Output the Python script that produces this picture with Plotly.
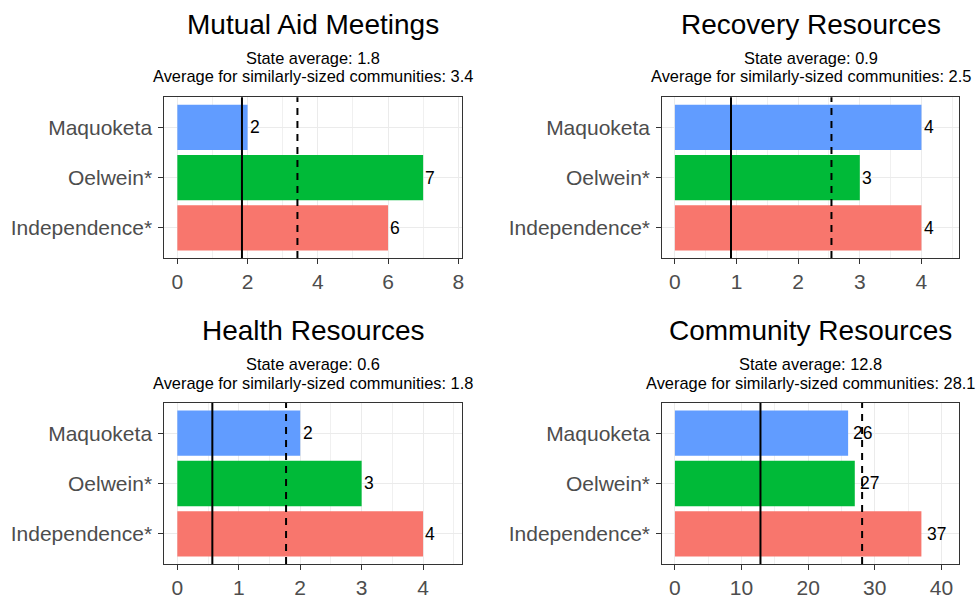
import plotly.graph_objects as go

# ---- data ----
communities = ["Independence*", "Oelwein*", "Maquoketa"]
bar_colors = ["#F8766D", "#00BA38", "#619CFF"]

panel_titles = ["Mutual Aid Meetings", "Recovery Resources", "Health Resources", "Community Resources"]
mutual_aid = [6, 7, 2]
recovery = [4, 3, 4]
health = [4, 3, 2]
community = [37, 27, 26]
state_avg = [1.84, 0.91, 0.57, 12.84]
similar_avg = [3.42, 2.54, 1.77, 28.1]
x_ticks = [[0, 2, 4, 6, 8], [0, 1, 2, 3, 4], [0, 1, 2, 3, 4], [0, 10, 20, 30, 40]]

series = [mutual_aid, recovery, health, community]

# ---- layout constants ----
W, H = 977, 599
FONT = "Liberation Sans"
col_px = [(164.7, 462.7), (663.7, 961.0)]
row_px = [(98.3, 261.0), (407.7, 570.7)]
title_y_px = [24.5, 334.0]
sub1_y_px = [58.3, 368.3]
sub2_y_px = [77.3, 387.3]
x_ranges = [[-0.37, 8.1], [-0.204, 4.61], [-0.211, 4.63], [-1.89, 42.65]]

fig = go.Figure()
annotations = []
shapes = []

for i in range(4):
    r, c = divmod(i, 2)
    n = i + 1
    xa = "x" if n == 1 else f"x{n}"
    ya = "y" if n == 1 else f"y{n}"
    vals = series[i]
    fig.add_trace(go.Bar(
        x=vals, y=communities, orientation="h",
        marker=dict(color=bar_colors, line=dict(width=0)),
        width=0.9, xaxis=xa, yaxis=ya, showlegend=False, hoverinfo="x+y",
    ))
    ticks = x_ticks[i]
    dt = ticks[1] - ticks[0]
    x0p, x1p = col_px[c]
    y0p, y1p = row_px[r]
    axis_common = dict(
        showline=True, linecolor="#333333", linewidth=1.2, mirror=True,
        ticks="outside", ticklen=5, tickwidth=1.2, tickcolor="#333333",
        tickfont=dict(family=FONT, size=21, color="#4D4D4D"),
        showgrid=True, gridcolor="#EBEBEB", gridwidth=1.3, zeroline=False,
    )
    fig.layout[f"xaxis{'' if n == 1 else n}"] = dict(
        axis_common,
        domain=[x0p / W, x1p / W], anchor=ya, range=x_ranges[i],
        tickmode="array", tickvals=ticks, ticktext=[str(t) for t in ticks],
        minor=dict(dtick=dt / 2, tick0=0, showgrid=True, gridcolor="#F0F0F0", gridwidth=0.8, ticks=""),
    )
    fig.layout[f"yaxis{'' if n == 1 else n}"] = dict(
        axis_common,
        domain=[1 - y1p / H, 1 - y0p / H], anchor=xa, range=[-0.6, 2.6],
        type="category", categoryorder="array", categoryarray=communities,
        ticklabelstandoff=2,
    )
    # reference lines
    shapes.append(dict(type="line", xref=xa, yref=f"{ya} domain", x0=state_avg[i], x1=state_avg[i],
                       y0=0, y1=1, line=dict(color="black", width=2)))
    shapes.append(dict(type="line", xref=xa, yref=f"{ya} domain", x0=similar_avg[i], x1=similar_avg[i],
                       y0=0, y1=1, line=dict(color="black", width=2, dash="7px,6px")))
    # value labels
    for cat, v in zip(communities, vals):
        annotations.append(dict(
            x=v, y=cat, xref=xa, yref=ya, text=str(v), showarrow=False,
            xanchor="left", yanchor="middle", xshift=0.3 * len(str(v)) * 9.5 - 2.5,
            font=dict(family=FONT, size=17.5, color="black"),
        ))
    cx = (x0p + x1p) / 2 / W
    annotations.append(dict(
        x=cx, y=1 - title_y_px[r] / H, xref="paper", yref="paper", text=panel_titles[i],
        showarrow=False, xanchor="center", yanchor="middle",
        font=dict(family=FONT, size=28, color="black"),
    ))
    annotations.append(dict(
        x=cx, y=1 - sub1_y_px[r] / H, xref="paper", yref="paper",
        text=f"State average: {state_avg[i]:.1f}",
        showarrow=False, xanchor="center", yanchor="middle",
        font=dict(family=FONT, size=16.4, color="black"),
    ))
    annotations.append(dict(
        x=cx, y=1 - sub2_y_px[r] / H, xref="paper", yref="paper",
        text=f"Average for similarly-sized communities: {similar_avg[i]:.1f}",
        showarrow=False, xanchor="center", yanchor="middle",
        font=dict(family=FONT, size=16.4, color="black"),
    ))

fig.update_layout(
    width=W, height=H, margin=dict(l=0, r=0, t=0, b=0),
    paper_bgcolor="white", plot_bgcolor="white",
    annotations=annotations, shapes=shapes, bargap=0.1,
    font=dict(family=FONT),
)

fig.write_html(
    "out.html",
    config={"displayModeBar": False},
    post_script="document.body.style.margin='0';document.body.style.padding='0';document.body.style.overflow='hidden';",
)
